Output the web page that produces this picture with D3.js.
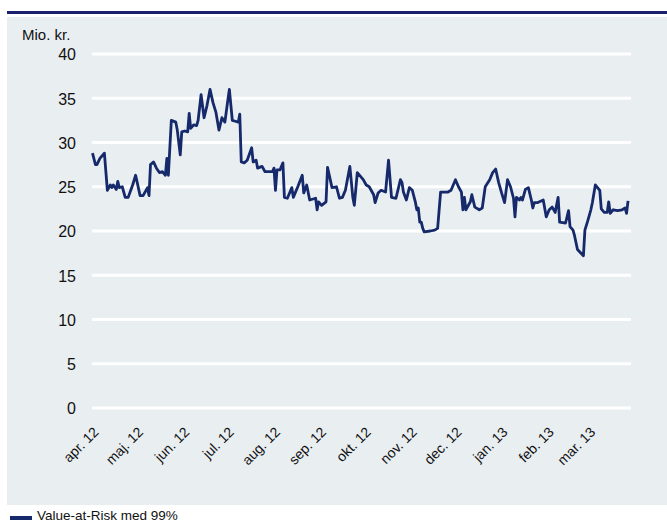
<!DOCTYPE html>
<html><head><meta charset="utf-8">
<script src="https://cdn.jsdelivr.net/npm/d3@7"></script>
<style>
html,body{margin:0;padding:0;background:#fff;}
svg{display:block;font-family:"Liberation Sans",Arial,sans-serif;}
</style></head>
<body><svg id="c" width="667" height="524"></svg>
<script>
const dates = ["2012-04-02","2012-04-04","2012-04-05","2012-04-07","2012-04-10","2012-04-12","2012-04-14","2012-04-15","2012-04-16","2012-04-18","2012-04-19","2012-04-20","2012-04-22","2012-04-24","2012-04-26","2012-04-29",
"2012-05-01","2012-05-04","2012-05-06","2012-05-09","2012-05-10","2012-05-11","2012-05-13","2012-05-15","2012-05-17","2012-05-19","2012-05-21","2012-05-22","2012-05-23","2012-05-25","2012-05-28","2012-05-29","2012-05-31",
"2012-06-01","2012-06-03","2012-06-05","2012-06-06","2012-06-07","2012-06-09","2012-06-11","2012-06-12","2012-06-14","2012-06-16","2012-06-18","2012-06-20","2012-06-22","2012-06-24","2012-06-26","2012-06-28","2012-06-30",
"2012-07-02","2012-07-03","2012-07-05","2012-07-07","2012-07-09","2012-07-10","2012-07-11","2012-07-13","2012-07-15","2012-07-18","2012-07-19","2012-07-21","2012-07-22","2012-07-25","2012-07-27","2012-07-29",
"2012-08-01","2012-08-02","2012-08-03","2012-08-04","2012-08-06","2012-08-08","2012-08-09","2012-08-11","2012-08-14","2012-08-15","2012-08-18","2012-08-21","2012-08-22","2012-08-24","2012-08-26","2012-08-30","2012-08-31",
"2012-09-01","2012-09-03","2012-09-06","2012-09-07","2012-09-10","2012-09-13","2012-09-15","2012-09-17","2012-09-19","2012-09-22","2012-09-24","2012-09-25","2012-09-27",
"2012-10-01","2012-10-03","2012-10-05","2012-10-08","2012-10-09","2012-10-11","2012-10-13","2012-10-16","2012-10-18","2012-10-20","2012-10-23","2012-10-26","2012-10-27","2012-10-28","2012-10-30",
"2012-11-01","2012-11-03","2012-11-05","2012-11-06","2012-11-07","2012-11-08","2012-11-09","2012-11-10","2012-11-11","2012-11-15","2012-11-18","2012-11-20","2012-11-22","2012-11-25","2012-11-27","2012-11-29",
"2012-12-02","2012-12-04","2012-12-06","2012-12-07","2012-12-08","2012-12-09","2012-12-12","2012-12-13","2012-12-15","2012-12-18","2012-12-20","2012-12-22","2012-12-25","2012-12-27","2012-12-29","2012-12-31",
"2013-01-02","2013-01-04","2013-01-06","2013-01-08","2013-01-10","2013-01-11","2013-01-12","2013-01-14","2013-01-15","2013-01-16","2013-01-18","2013-01-20","2013-01-22","2013-01-23","2013-01-24","2013-01-26","2013-01-30",
"2013-02-01","2013-02-03","2013-02-05","2013-02-07","2013-02-09","2013-02-10","2013-02-14","2013-02-16","2013-02-17","2013-02-19","2013-02-20","2013-02-22","2013-02-26","2013-02-27",
"2013-03-01","2013-03-03","2013-03-04","2013-03-06","2013-03-09","2013-03-10","2013-03-12","2013-03-14","2013-03-15","2013-03-16","2013-03-18","2013-03-21","2013-03-24","2013-03-26","2013-03-27","2013-03-28"];
const varValues = [28.8,27.5,27.5,28.2,28.8,24.6,25.2,24.9,25.2,24.7,25.6,24.9,25.0,23.8,23.8,25.2,
26.3,24.0,24.0,24.9,24.0,27.5,27.8,27.1,26.6,26.7,26.3,28.2,26.3,32.5,32.3,31.4,28.6,
31.2,31.3,31.2,33.3,31.6,32.0,31.9,32.5,35.4,32.8,34.2,36.0,34.5,33.4,31.4,32.8,32.3,
34.8,36.0,32.5,32.4,32.3,33.2,27.8,27.7,28.0,29.4,27.8,28.0,27.1,27.3,26.7,26.7,
26.7,27.1,24.6,26.9,26.9,27.7,23.8,23.7,24.9,23.8,25.0,26.3,24.3,25.2,23.5,23.7,22.4,
23.3,22.9,23.3,27.2,24.9,25.0,23.7,23.8,24.6,27.3,23.8,22.9,26.6,
25.8,25.2,25.0,24.1,23.2,24.3,24.6,24.4,28.0,23.8,23.7,25.8,25.5,24.4,23.5,
24.9,24.6,23.3,22.4,22.6,21.0,21.0,20.3,19.9,20.0,20.1,20.3,24.4,24.4,24.4,24.6,
25.8,25.0,24.4,22.4,23.8,22.4,23.3,24.1,22.7,22.4,22.6,25.0,25.8,26.6,27.0,25.5,
24.3,23.2,25.8,25.0,23.7,21.6,23.8,23.5,23.8,23.5,24.7,24.9,23.5,22.6,23.2,23.2,23.5,
21.6,22.4,22.7,22.1,23.8,21.0,20.9,22.3,20.5,20.1,19.5,17.9,17.2,20.1,
21.2,22.4,23.2,25.2,24.6,22.5,22.1,22.1,23.3,22.0,22.4,22.3,22.4,22.6,22.0,23.4];
const yTicks = [0,5,10,15,20,25,30,35,40];
const monthLabels = ["apr. 12","maj. 12","jun. 12","jul. 12","aug. 12","sep. 12","okt. 12","nov. 12","dec. 12","jan. 13","feb. 13","mar. 13"];
const unitLabel = "Mio. kr.";
const seriesName = "Value-at-Risk med 99%";

const parse = d3.timeParse("%Y-%m-%d");
const data = dates.map((d,i)=>({date:parse(d), v:varValues[i]}));
const navy = "#15296b";
const svg = d3.select("#c");

// top rule and panel
svg.append("rect").attr("x",7).attr("y",11).attr("width",660).attr("height",3).attr("fill","#1a1f6e");
svg.append("rect").attr("x",7).attr("y",17).attr("width",660).attr("height",488).attr("fill","#e9eef1");

const x = d3.scaleTime().domain([new Date(2012,3,1), new Date(2013,3,1)]).range([91,634]);
const y = d3.scaleLinear().domain([0,40]).range([408,54]);

// gridlines
svg.append("g").selectAll("line").data(yTicks).join("line")
  .attr("x1",92).attr("x2",631).attr("y1",d=>y(d)).attr("y2",d=>y(d))
  .attr("stroke","#fff").attr("stroke-width",3);

// y axis
const yAxis = svg.append("g").attr("transform","translate(76,0)")
  .call(d3.axisLeft(y).tickValues(yTicks).tickSize(0).tickPadding(0));
yAxis.select(".domain").remove();
yAxis.selectAll("text").attr("font-size",16).attr("fill","#111").attr("dy","0.36em")
  .style("font-family","'Liberation Sans',Arial,sans-serif");

svg.append("text").attr("x",22).attr("y",40).attr("font-size",15).attr("fill","#111").text(unitLabel);

// x axis
const monthStarts = d3.timeMonth.range(new Date(2012,3,1), new Date(2013,3,1));
const xAxis = svg.append("g").attr("transform","translate(0,408)")
  .call(d3.axisBottom(x).tickValues(monthStarts).tickSize(0).tickFormat((d,i)=>monthLabels[i]));
xAxis.select(".domain").remove();
xAxis.selectAll("text")
  .attr("font-size",14).attr("fill","#111")
  .attr("text-anchor","end")
  .attr("transform",d=>"translate(8,25) rotate(-45)")
  .attr("dy","0").attr("y",0).attr("x",0)
  .style("font-family","'Liberation Sans',Arial,sans-serif");

// line
const line = d3.line().x(d=>x(d.date)).y(d=>y(d.v));
svg.append("path").datum(data).attr("d",line).attr("fill","none")
  .attr("stroke",navy).attr("stroke-width",2.8).attr("stroke-linejoin","round");

// legend
svg.append("rect").attr("x",10).attr("y",516).attr("width",22).attr("height",4).attr("fill",navy);
svg.append("text").attr("x",37).attr("y",520).attr("font-size",13.5).attr("fill","#111").text(seriesName);
</script></body></html>
